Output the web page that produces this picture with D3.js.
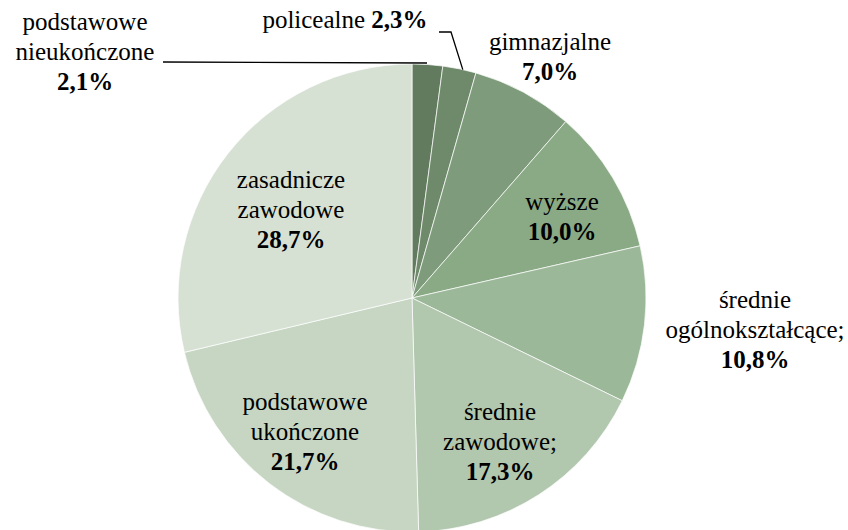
<!DOCTYPE html>
<html><head><meta charset="utf-8">
<script src="https://cdn.jsdelivr.net/npm/d3@7"></script>
<style>body{margin:0;background:#fff}svg{display:block}</style>
</head><body><svg id="c" width="848" height="530"></svg>
<script>
const categories = ["podstawowe nieukończone","policealne","gimnazjalne","wyższe","średnie ogólnokształcące;","średnie zawodowe;","podstawowe ukończone","zasadnicze zawodowe"];
const values = [2.1, 2.3, 7.0, 10.0, 10.8, 17.3, 21.7, 28.7];
const valueLabels = ["2,1%","2,3%","7,0%","10,0%","10,8%","17,3%","21,7%","28,7%"];
const colors = ["#627b5f","#6f8a6b","#7e9c7b","#8aaa86","#9bb898","#b1c7ae","#c6d6c3","#d6e1d4"];
const labelLines = [["podstawowe","nieukończone"],["policealne"],["gimnazjalne"],["wyższe"],["średnie","ogólnokształcące;"],["średnie","zawodowe;"],["podstawowe","ukończone"],["zasadnicze","zawodowe"]];
const labelPos = [[85,30],[0,0],[550,50],[562,210],[755,308],[500,420],[305,410],[291,188]];

const FONT = "'Liberation Serif', 'Times New Roman', Times, 'Nimbus Roman', 'DejaVu Serif', serif";
const svg = d3.select("#c").attr("font-family",FONT).attr("font-size",25);
const cx = 412, cy = 298, r = 234;
const g = svg.append("g").attr("transform",`translate(${cx},${cy})`);
const pie = d3.pie().sort(null).value(d=>d);
const arcs = pie(values);
const arc = d3.arc().innerRadius(0).outerRadius(r);
g.selectAll("path").data(arcs).join("path")
  .attr("d",arc).attr("fill",(d,i)=>colors[i]).attr("stroke","#fff").attr("stroke-width",0.7);

const lh = 30;
labelLines.forEach((lines,i)=>{
  if(i===1){
    const t = svg.append("text").attr("x",345).attr("y",28).attr("text-anchor","middle").attr("font-family",FONT);
    t.append("tspan").text(categories[1]+" ");
    t.append("tspan").attr("font-weight","bold").text(valueLabels[1]);
    return;
  }
  const [x,y] = labelPos[i];
  const t = svg.append("text").attr("text-anchor","middle").attr("font-family",FONT);
  lines.forEach((l,k)=>t.append("tspan").attr("x",x).attr("y",y+k*lh).text(l));
  t.append("tspan").attr("x",x).attr("y",y+lines.length*lh).attr("font-weight","bold").text(valueLabels[i]);
});

const a1 = arcs[1];
const edge1 = a1.startAngle + (a1.endAngle-a1.startAngle)*0.6;
svg.append("path").attr("fill","none").attr("stroke","#000").attr("stroke-width",1.3)
  .attr("d",`M163,62 L427,63`);
svg.append("path").attr("fill","none").attr("stroke","#000").attr("stroke-width",1.3)
  .attr("d",`M439,32 L451,32 L${cx+r*Math.sin(edge1)},${cy-r*Math.cos(edge1)}`);
</script></body></html>
